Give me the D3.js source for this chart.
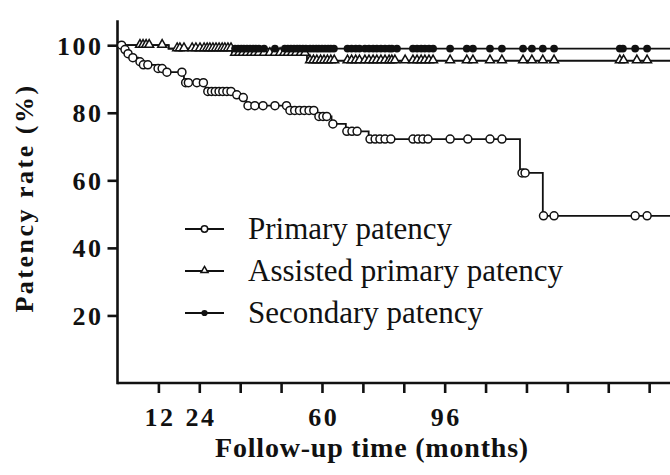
<!DOCTYPE html>
<html><head><meta charset="utf-8">
<script src="https://cdn.jsdelivr.net/npm/d3@7"></script>
<style>body{margin:0;background:#fff;} svg{display:block;}</style>
</head><body>
<svg id="chart" width="670" height="475"></svg>
<script>
// ---------- data ----------
const xTickValues = [12, 24, 36, 48, 60, 72, 84, 96, 108, 120, 132, 144, 156, 168];
const xTickLabels = [12, 24, 60, 96];
const yTickValues = [20, 40, 60, 80, 100];
const seriesNames = ["Primary patency", "Assisted primary patency", "Secondary patency"];

// step functions: [time (months), patency (%) from that time on]
const primarySteps = [[0,100],[1.8,98.7],[2.8,97.5],[4.0,96.3],[6.0,95.1],[7.2,94.2],[11.5,93.1],[14.2,92.0],[19.5,88.9],[25.8,86.3],[34.7,85.3],[36.5,84.5],[37.8,82.1],[50.2,80.7],[58.6,78.9],[62.8,76.7],[67.0,74.5],[73.7,72.2],[118.1,62.2],[124.8,49.5]];
const primaryCensored = [1.2,2.2,3.1,4.5,6.6,7.6,8.9,11.9,13.1,14.5,18.9,20.0,20.8,23.3,25.2,26.5,27.6,28.7,29.8,30.9,32.1,33.3,35.0,36.9,38.3,40.3,42.7,46.2,49.6,50.6,52.0,53.4,54.8,56.2,57.6,59.1,60.3,61.4,63.2,67.3,68.8,70.3,74.1,75.6,77.0,78.5,80.2,86.7,88.2,89.6,91.1,97.6,102.8,109.3,112.8,118.7,119.6,125.0,128.1,151.9,155.4];

const assistedSteps = [[0,100],[15,99.0],[33.6,97.6],[55.6,95.4]];
const assistedCensored = [6.6,7.5,8.4,9.3,13.1,17.5,18.3,19.5,21.9,23.0,24.2,25.4,26.3,27.1,28.0,28.9,29.8,30.7,31.5,32.4,33.3,34.5,35.7,36.8,38.0,39.2,40.3,41.5,43.0,44.7,46.2,47.7,48.9,50.0,51.2,52.4,53.8,55.0,56.5,57.5,58.5,59.6,60.6,61.6,62.6,63.6,67.5,68.7,69.9,71.0,72.6,73.8,75.0,76.1,77.3,78.5,79.7,80.5,81.4,84.4,86.7,87.9,89.1,90.2,91.4,92.6,97.6,102.5,104.3,109.3,112.8,119.0,121.6,124.8,128.1,147.4,148.5,152.4,155.4];

const secondarySteps = [[0,100],[15,99.0]];
const secondaryCensored = [34.5,35.4,36.3,37.1,38.0,38.9,39.8,40.6,41.5,43.0,46.2,49.1,50.0,50.9,51.8,52.7,53.5,54.4,55.3,56.5,57.4,58.3,59.1,60.0,60.9,61.8,62.6,63.5,67.5,68.7,69.9,71.0,72.6,73.8,75.0,76.1,77.3,78.5,79.7,80.5,82.0,86.7,87.9,89.1,90.2,91.4,92.6,97.6,102.5,104.3,109.3,112.8,119.0,121.6,124.8,128.1,147.4,148.3,151.9,155.4];

const lastTime = 175;

// ---------- layout ----------
const svg = d3.select("#chart");
const ink = "#111";
const x0 = 117.5, y0 = 383;
const x = d3.scaleLinear().domain([0, 180]).range([x0, x0 + 180 * 3.408]);
const y = d3.scaleLinear().domain([0, 107.4]).range([y0, y0 - 107.4 * 3.378]);

const serif = "'Liberation Serif','Times New Roman',serif";

// axes
const xAxis = d3.axisBottom(x).tickValues(xTickValues).tickSize(10)
  .tickFormat(d => xTickLabels.includes(d) ? d : "");
const gx = svg.append("g").attr("transform", `translate(0,${y0})`).call(xAxis);
gx.select(".domain").attr("d", `M${x0},0H${x(180)}`).attr("stroke", ink).attr("stroke-width", 2.6);
gx.selectAll(".tick line").attr("stroke", ink).attr("stroke-width", 2.6);
gx.selectAll(".tick text").attr("fill", ink).attr("font-family", serif).attr("font-weight", "bold")
  .attr("font-size", 26).attr("letter-spacing", 2.5).attr("dy", 0).attr("y", 43).attr("dx", 1.2);

const yAxis = d3.axisLeft(y).tickValues(yTickValues).tickSize(10).tickFormat(d => d);
const gy = svg.append("g").attr("transform", `translate(${x0},0)`).call(yAxis);
gy.select(".domain").attr("d", `M0,${y(107.4)}V${y0 + 1.3}`).attr("stroke", ink).attr("stroke-width", 2.6);
gy.selectAll(".tick line").attr("stroke", ink).attr("stroke-width", 2.6);
gy.selectAll(".tick text").attr("fill", ink).attr("font-family", serif).attr("font-weight", "bold")
  .attr("font-size", 26).attr("letter-spacing", 2.5).attr("x", -14).attr("dy", "0.35em");

// axis titles
svg.append("text").attr("x", 372).attr("y", 457).attr("text-anchor", "middle")
  .attr("font-family", serif).attr("font-weight", "bold").attr("font-size", 28).attr("letter-spacing", 0.8)
  .attr("fill", ink).text("Follow-up time (months)");
svg.append("text").attr("transform", "translate(33,198) rotate(-90)").attr("text-anchor", "middle")
  .attr("font-family", serif).attr("font-weight", "bold").attr("font-size", 26).attr("letter-spacing", 2.5)
  .attr("fill", ink).text("Patency rate (%)");

// ---------- curves ----------
function valueAt(steps, t) {
  let v = steps[0][1];
  for (const s of steps) { if (s[0] <= t) v = s[1]; }
  return v;
}
const line = d3.line().x(d => x(d[0])).y(d => y(d[1])).curve(d3.curveStepAfter);

const series = [
  {steps: primarySteps, cens: primaryCensored, shape: "circleOpen"},
  {steps: assistedSteps, cens: assistedCensored, shape: "triangle"},
  {steps: secondarySteps, cens: secondaryCensored, shape: "circleFilled"}
];

const plot = svg.append("g");
series.forEach(s => {
  const pts = s.steps.concat([[lastTime, s.steps[s.steps.length - 1][1]]]);
  plot.append("path").attr("d", line(pts)).attr("fill", "none").attr("stroke", ink).attr("stroke-width", 1.8);
});

function drawMarker(g, shape, cx, cy, scale) {
  if (shape === "circleOpen") {
    g.append("circle").attr("cx", cx).attr("cy", cy).attr("r", 4 * scale)
      .attr("fill", "#fff").attr("stroke", ink).attr("stroke-width", 1.5);
  } else if (shape === "triangle") {
    const sym = d3.symbol().type(d3.symbolTriangle).size(34 * scale * scale);
    g.append("path").attr("d", sym()).attr("transform", `translate(${cx},${cy - 0.5})`)
      .attr("fill", "#fff").attr("stroke", ink).attr("stroke-width", 1.5);
  } else {
    g.append("circle").attr("cx", cx).attr("cy", cy).attr("r", 3.9 * scale).attr("fill", ink);
  }
}

series.forEach(s => {
  const g = plot.append("g");
  s.cens.forEach(t => drawMarker(g, s.shape, x(t), y(valueAt(s.steps, t)), 1));
});

// ---------- legend ----------
const legend = svg.append("g");
const legendRows = [229, 271, 313];
seriesNames.forEach((name, i) => {
  const cy = legendRows[i];
  legend.append("line").attr("x1", 185).attr("x2", 224).attr("y1", cy).attr("y2", cy)
    .attr("stroke", ink).attr("stroke-width", 1.8);
  drawMarker(legend, series[i].shape, 204.5, cy, 0.8);
  legend.append("text").attr("x", 248).attr("y", cy).attr("dy", "0.33em")
    .attr("font-family", serif).attr("font-size", 31).attr("fill", ink).text(name);
});
</script>
</body></html>
